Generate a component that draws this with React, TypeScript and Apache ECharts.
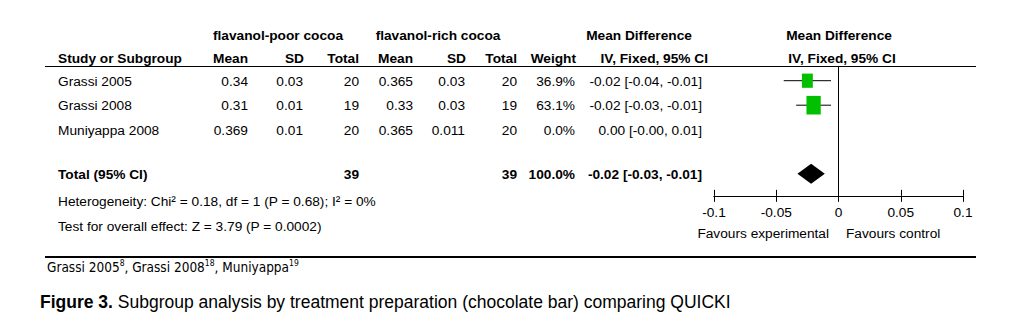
import React, { useEffect, useRef } from "react";
import * as echarts from "echarts";

// ---- data ----
const studies = ["Grassi 2005", "Grassi 2008", "Muniyappa 2008"];
const poorMean = ["0.34", "0.31", "0.369"];
const poorSD = ["0.03", "0.01", "0.01"];
const poorTotal = [20, 19, 20];
const richMean = ["0.365", "0.33", "0.365"];
const richSD = ["0.03", "0.03", "0.011"];
const richTotal = [20, 19, 20];
const weights = [36.9, 63.1, 0.0];
const ciLabels = ["-0.02 [-0.04, -0.01]", "-0.02 [-0.03, -0.01]", "0.00 [-0.00, 0.01]"];
const mdValues = [-0.025, -0.02, 0.004];
const ciLow = [-0.044, -0.034, -0.004];
const ciHigh = [-0.006, -0.006, 0.012];
const totalPoor = 39;
const totalRich = 39;
const totalWeight = "100.0%";
const totalLabel = "-0.02 [-0.03, -0.01]";
const totalMd = -0.022;
const totalLo = -0.033;
const totalHi = -0.011;
const heterogeneity = "Heterogeneity: Chi² = 0.18, df = 1 (P = 0.68); I² = 0%";
const overall = "Test for overall effect: Z = 3.79 (P = 0.0002)";
const xTicks = { min: -0.1, max: 0.1, interval: 0.05 };
const favoursLeft = "Favours experimental";
const favoursRight = "Favours control";

// ---- layout ----
const FONT = "'Liberation Sans', Arial, Helvetica, sans-serif";
const NARROW = "'Liberation Sans Narrow', 'DejaVu Sans Condensed', sans-serif";
const FS = 13.7;
const ROW0 = 81;
const ROW_H = 24.5;
const TOTAL_ROW = 3.8;
const Y_MIN = -0.6;
const Y_MAX = 4.7;
const rowY = (i: number) => ROW0 + i * ROW_H;
const colRight = [248, 303, 359, 413, 465, 517, 575, 702];
const headRight = [248, 304, 359, 413, 466, 517, 576, 708];

function txt(x: number, y: number, text: string, align: string, bold = false, size = FS) {
  return {
    type: "text",
    x,
    y,
    silent: true,
    style: {
      text,
      fill: "#000",
      fontFamily: FONT,
      fontSize: size,
      fontWeight: bold ? "bold" : "normal",
      align,
      verticalAlign: "middle",
    },
  };
}

export default function App() {
  const ref = useRef<HTMLDivElement>(null);
  useEffect(() => {
    if (!ref.current) return;
    const chart = echarts.init(ref.current, undefined, { renderer: "svg" });

    const g: any[] = [];
    // headers
    g.push(txt(278, 35, "flavanol-poor cocoa", "center", true));
    g.push(txt(438, 35, "flavanol-rich cocoa", "center", true));
    g.push(txt(639, 35, "Mean Difference", "center", true));
    g.push(txt(839, 35, "Mean Difference", "center", true));
    g.push(txt(58, 58, "Study or Subgroup", "left", true));
    const heads = ["Mean", "SD", "Total", "Mean", "SD", "Total", "Weight", "IV, Fixed, 95% CI"];
    heads.forEach((h, k) => g.push(txt(headRight[k], 58, h, "right", true)));
    g.push(txt(842, 58, "IV, Fixed, 95% CI", "center", true));
    g.push({
      type: "line",
      silent: true,
      shape: { x1: 45, y1: 66.5, x2: 976, y2: 66.5 },
      style: { stroke: "#000", lineWidth: 1 },
    });
    // study rows
    studies.forEach((s, i) => {
      const y = rowY(i);
      g.push(txt(58, y, s, "left"));
      const cells = [
        poorMean[i],
        poorSD[i],
        String(poorTotal[i]),
        richMean[i],
        richSD[i],
        String(richTotal[i]),
        weights[i].toFixed(1) + "%",
        ciLabels[i],
      ];
      cells.forEach((c, k) => g.push(txt(colRight[k], y, c, "right")));
    });
    // total row
    const ty = rowY(TOTAL_ROW);
    g.push(txt(58, ty, "Total (95% CI)", "left", true));
    g.push(txt(colRight[2], ty, String(totalPoor), "right", true));
    g.push(txt(colRight[5], ty, String(totalRich), "right", true));
    g.push(txt(colRight[6], ty, totalWeight, "right", true));
    g.push(txt(colRight[7], ty, totalLabel, "right", true));
    g.push(txt(58, 201, heterogeneity, "left"));
    g.push(txt(58, 226, overall, "left"));
    // favours
    g.push(txt(829, 233, favoursLeft, "right"));
    g.push(txt(846, 233, favoursRight, "left"));
    // bottom rule
    g.push({
      type: "line",
      silent: true,
      shape: { x1: 45, y1: 257, x2: 976, y2: 257 },
      style: { stroke: "#000", lineWidth: 2 },
    });
    // footnote
    g.push({
      type: "text",
      x: 47,
      y: 258,
      silent: true,
      style: {
        text: "Grassi 2005{s|8}, Grassi 2008{s|18}, Muniyappa{s|19}",
        fill: "#000",
        fontFamily: NARROW,
        fontSize: 13.5,
        lineHeight: 18,
        align: "left",
        verticalAlign: "top",
        rich: {
          s: {
            fontFamily: NARROW,
            fontSize: 8.5,
            lineHeight: 8,
            verticalAlign: "top",
          },
        },
      },
    });
    // caption
    g.push({
      type: "text",
      x: 40,
      y: 302,
      silent: true,
      style: {
        text: "{b|Figure 3.} Subgroup analysis by treatment preparation (chocolate bar) comparing QUICKI",
        fill: "#000",
        fontFamily: FONT,
        fontSize: 17.5,
        align: "left",
        verticalAlign: "middle",
        rich: {
          b: { fontFamily: FONT, fontSize: 17.5, fontWeight: "bold" },
        },
      },
    });

    const studyData = studies
      .map((_, i) => [mdValues[i], i, ciLow[i], ciHigh[i], weights[i]])
      .filter((d) => d[4] > 0);

    const axisCommon = {
      type: "value",
      min: xTicks.min,
      max: xTicks.max,
      interval: xTicks.interval,
      position: "bottom",
      splitLine: { show: false },
      axisLine: { show: true, onZero: false, lineStyle: { color: "#000", width: 1 } },
    };

    chart.setOption({
      animation: false,
      backgroundColor: "#fff",
      grid: {
        left: 714,
        right: 1014 - 963,
        top: 66,
        height: (Y_MAX - Y_MIN) * ROW_H,
        containLabel: false,
      },
      xAxis: [
        {
          ...axisCommon,
          axisTick: { show: true, inside: false, length: 6, lineStyle: { color: "#000" } },
          axisLabel: {
            show: true,
            margin: 10,
            color: "#000",
            fontFamily: FONT,
            fontSize: FS,
            showMinLabel: true,
            showMaxLabel: true,
          },
        },
        {
          ...axisCommon,
          axisTick: { show: true, inside: true, length: 6, lineStyle: { color: "#000" } },
          axisLabel: { show: false },
        },
      ],
      yAxis: {
        type: "value",
        min: Y_MIN,
        max: Y_MAX,
        inverse: true,
        show: false,
      },
      series: [
        {
          type: "line",
          data: [
            [0, Y_MIN],
            [0, Y_MAX],
          ],
          symbol: "none",
          silent: true,
          lineStyle: { color: "#000", width: 1 },
        },
        {
          type: "custom",
          silent: true,
          data: studyData,
          encode: { x: [0, 2, 3], y: 1 },
          renderItem: (params: any, api: any) => {
            const row = api.value(1);
            const pMd = api.coord([api.value(0), row]);
            const pLo = api.coord([api.value(2), row]);
            const pHi = api.coord([api.value(3), row]);
            const w = 18 * Math.sqrt(api.value(4) / 100);
            const h = w * 1.3;
            return {
              type: "group",
              children: [
                {
                  type: "line",
                  shape: { x1: pLo[0], y1: pMd[1], x2: pHi[0], y2: pMd[1] },
                  style: { stroke: "#000", lineWidth: 1 },
                },
                {
                  type: "rect",
                  shape: { x: pMd[0] - w / 2, y: pMd[1] - h / 2, width: w, height: h },
                  style: { fill: "#00c000" },
                },
              ],
            };
          },
        },
        {
          type: "custom",
          silent: true,
          data: [[totalMd, TOTAL_ROW, totalLo, totalHi]],
          encode: { x: [0, 2, 3], y: 1 },
          renderItem: (params: any, api: any) => {
            const row = api.value(1);
            const pMd = api.coord([api.value(0), row]);
            const pLo = api.coord([api.value(2), row]);
            const pHi = api.coord([api.value(3), row]);
            return {
              type: "polygon",
              shape: {
                points: [
                  [pLo[0], pMd[1]],
                  [pMd[0], pMd[1] - 10],
                  [pHi[0], pMd[1]],
                  [pMd[0], pMd[1] + 10],
                ],
              },
              style: { fill: "#000" },
            };
          },
        },
      ],
      graphic: g,
    });
    return () => chart.dispose();
  }, []);
  return (
    <div
      ref={ref}
      style={{ position: "fixed", left: 0, top: 0, width: 1014, height: 334, background: "#fff" }}
    />
  );
}
